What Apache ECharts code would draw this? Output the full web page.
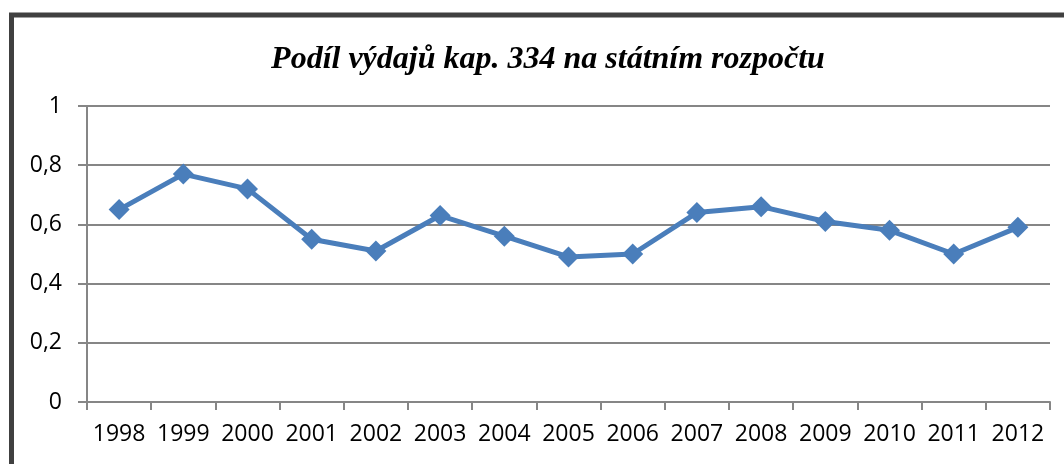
<!DOCTYPE html>
<html>
<head>
<meta charset="utf-8">
<script src="https://cdn.jsdelivr.net/npm/echarts@6/dist/echarts.min.js"></script>
<style>
html,body{margin:0;padding:0;background:#fff;}
#c{width:1064px;height:464px;}
</style>
</head>
<body>
<div id="c"></div>
<script>
const titleText = 'Podíl výdajů kap. 334 na státním rozpočtu';
const years = ['1998','1999','2000','2001','2002','2003','2004','2005','2006','2007','2008','2009','2010','2011','2012'];
const shares = [0.65,0.77,0.72,0.55,0.51,0.63,0.56,0.49,0.50,0.64,0.66,0.61,0.58,0.50,0.59];
const yTicks = [0,0.2,0.4,0.6,0.8,1];

const chart = echarts.init(document.getElementById('c'), null, {renderer:'canvas'});
chart.setOption({
  backgroundColor:'#fff',
  animation:false,
  title:{
    text:titleText,
    left:543, textAlign:'center', top:39,
    textStyle:{fontFamily:'Liberation Serif',fontStyle:'italic',fontWeight:'bold',fontSize:32,color:'#000'}
  },
  graphic:[{
    type:'rect', silent:true,
    shape:{x:11.5,y:15,width:1200,height:600},
    style:{fill:'none',stroke:'#404040',lineWidth:5}
  }],
  grid:{left:87,right:14,top:106,bottom:62,containLabel:false},
  xAxis:{
    type:'category', data:years, boundaryGap:true,
    axisLine:{lineStyle:{color:'#868686',width:2}},
    axisTick:{show:true,length:8,alignWithLabel:false,lineStyle:{color:'#868686',width:2}},
    axisLabel:{fontFamily:'Open Sans',fontSize:23,color:'#000',margin:21,interval:0},
    splitLine:{show:false}
  },
  yAxis:{
    type:'value', min:0, max:1, interval:0.2,
    axisLine:{show:true,lineStyle:{color:'#868686',width:2}},
    axisTick:{show:true,length:9,lineStyle:{color:'#868686',width:2}},
    axisLabel:{fontFamily:'Open Sans',fontSize:23,color:'#000',margin:25,
      formatter:function(v){ const t = yTicks.find(x=>Math.abs(x-v)<1e-9); return String(t===undefined?v:t).replace('.',','); }},
    splitLine:{show:true,lineStyle:{color:'#868686',width:2}}
  },
  series:[{
    type:'line', data:shares,
    symbol:'diamond', symbolSize:21,
    lineStyle:{color:'#4a7ebb',width:5},
    itemStyle:{color:'#4a7ebb'}
  }]
});
</script>
</body>
</html>
